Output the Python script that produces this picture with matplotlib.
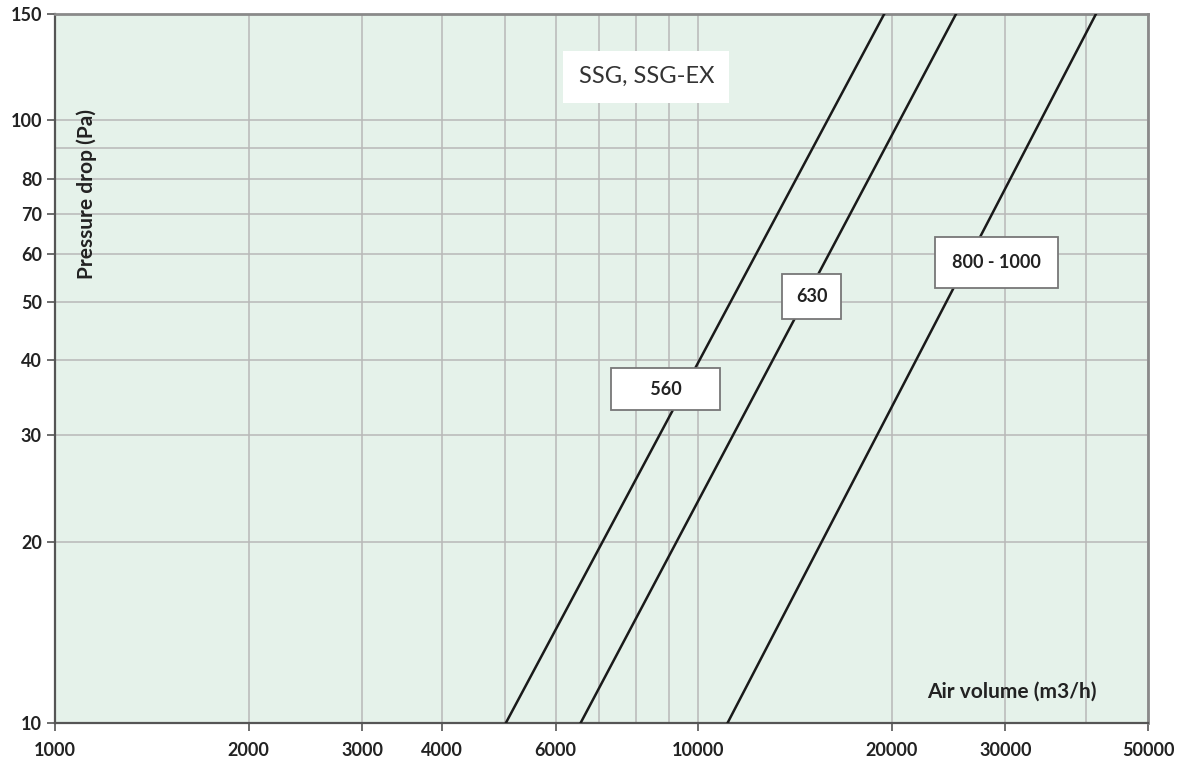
import numpy as np
import matplotlib.pyplot as plt
from matplotlib.ticker import FixedLocator, NullFormatter

plt.rcParams['font.family'] = ['Lato', 'DejaVu Sans']

# air volume (m3/h) of each curve at 10 Pa and at 150 Pa
sizes = ['560', '630', '800 - 1000']
q_at_10 = [5020, 6560, 11100]
q_at_150 = [19450, 25150, 41500]
p_ends = [10, 150]

# label box positions (air volume, pressure)
label_q = [8900, 15000, 29100]
label_p = [35.8, 51, 58.1]

x_major = [1000, 2000, 3000, 4000, 6000, 10000, 20000, 30000, 50000]
x_minor = [5000, 7000, 8000, 9000, 40000]
y_major = [10, 20, 30, 40, 50, 60, 70, 80, 100, 150]
y_minor = [90]

fig = plt.figure(figsize=(11.84, 7.70), dpi=100)
ax = fig.add_axes([0.0465, 0.061, 0.9231, 0.9208])
ax.set_facecolor('#e5f2ea')

for q0, q1 in zip(q_at_10, q_at_150):
    ax.plot([q0, q1], p_ends, color='#1a1a1a', lw=1.8, zorder=3)

# the 560 box is drawn wider than its text in the original
shown = ['      560      ', '630', '800 - 1000']
pads = [0.7, 0.75, 0.95]
for name, q, p, pad in zip(shown, label_q, label_p, pads):
    ax.text(q, p, name, ha='center', va='center', fontsize=13,
            fontweight='bold', color='#222222', zorder=5,
            bbox=dict(boxstyle='square,pad=%g' % pad, fc='white',
                      ec='#777777', lw=1.3))

ax.text(8300, 118, 'SSG, SSG-EX', ha='center', va='center', fontsize=17,
        color='#333333', zorder=5,
        bbox=dict(boxstyle='square,pad=0.65', fc='white', ec='none'))

ax.text(0.029, 0.746, 'Pressure drop (Pa)', transform=ax.transAxes,
        rotation=90, ha='center', va='center', fontsize=15,
        fontweight='bold', color='#222222')
ax.text(0.8756, 0.0437, 'Air volume (m3/h)', transform=ax.transAxes,
        ha='center', va='center', fontsize=15, fontweight='bold',
        color='#222222')

ax.set_xscale('log')
ax.set_yscale('log')
ax.set_xlim(1000, 50000)
ax.set_ylim(10, 150)

ax.xaxis.set_major_locator(FixedLocator(x_major))
ax.xaxis.set_minor_locator(FixedLocator(x_minor))
ax.yaxis.set_major_locator(FixedLocator(y_major))
ax.yaxis.set_minor_locator(FixedLocator(y_minor))
ax.set_xticklabels([str(v) for v in x_major])
ax.set_yticklabels([str(v) for v in y_major])
ax.xaxis.set_minor_formatter(NullFormatter())
ax.yaxis.set_minor_formatter(NullFormatter())

ax.tick_params(which='major', length=6, width=1.2, color='#555555',
               labelsize=13, labelcolor='#222222')
ax.tick_params(axis='x', which='major', pad=8)
ax.tick_params(which='minor', length=0)
for lab in ax.get_xticklabels() + ax.get_yticklabels():
    lab.set_fontweight('bold')

ax.grid(True, which='both', color='#b8b8b8', lw=1.1, zorder=1)
ax.set_axisbelow(True)

for side in ['left', 'bottom']:
    ax.spines[side].set_color('#555555')
    ax.spines[side].set_linewidth(1.6)
for side in ['top', 'right']:
    ax.spines[side].set_color('#8a8a8a')
    ax.spines[side].set_linewidth(2)

fig.savefig('out.png', dpi=100)
